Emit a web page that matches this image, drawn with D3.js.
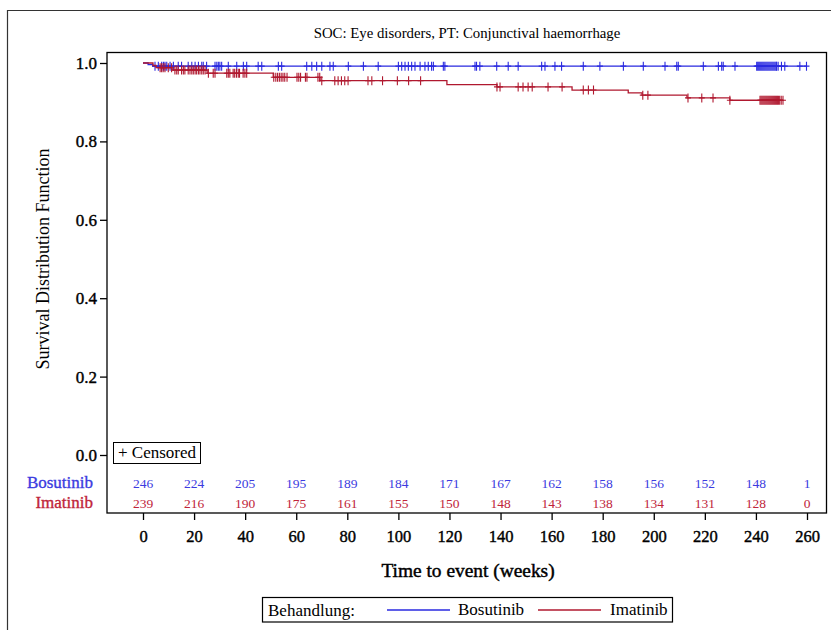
<!DOCTYPE html>
<html>
<head>
<meta charset="utf-8">
<script src="https://cdn.jsdelivr.net/npm/d3@7"></script>
<style>
  body { margin: 0; background: #fff; }
  svg text { font-family: "Liberation Serif", "Times New Roman", Times, "DejaVu Serif", serif; }
</style>
</head>
<body>
<div id="km"></div>
<script>
// --- data ---
var title = "SOC: Eye disorders, PT: Conjunctival haemorrhage";
var groups = ["Bosutinib", "Imatinib"];
var xTicks = [0, 20, 40, 60, 80, 100, 120, 140, 160, 180, 200, 220, 240, 260];
var yTicks = [0, 0.2, 0.4, 0.6, 0.8, 1.0];

var atRiskBos = [246, 224, 205, 195, 189, 184, 171, 167, 162, 158, 156, 152, 148, 1];
var atRiskIma = [239, 216, 190, 175, 161, 155, 150, 148, 143, 138, 134, 131, 128, 0];

// [time, survival after step]
var stepsBos = [[0, 1], [2, 0.996], [3.8, 0.992], [259.8, 0.992]];
var stepsIma = [[0, 1], [3.9, 0.9936], [5.1, 0.988], [11.4, 0.982], [25.1, 0.974],
  [51, 0.9635], [69.3, 0.955], [119, 0.945], [138.6, 0.939], [168, 0.931],
  [190, 0.924], [195.4, 0.918], [213, 0.911], [229.8, 0.905], [250.6, 0.905]];

var censBos = [4.7, 6, 7.3, 8, 8.6, 9.3, 10.6, 11.9, 13.8, 15.1, 17.7, 19.1, 20.4, 21.7, 23,
  23.6, 24.9, 28.2, 28.9, 29.5, 30.1, 30.8, 33.4, 36.7, 39.3, 40.6, 45.1, 46.5, 53, 54.3,
  64.1, 66.1, 68, 70, 73.2, 74.5, 80.4, 86.3, 92.1, 100, 101.3, 102.6, 103.9, 105.2, 106.5,
  108.5, 110.4, 111.7, 113, 113.7, 117.6, 118.2, 130, 130.6, 131.9, 138.5, 143, 146.9,
  156.1, 157.4, 161.3, 163.9, 172.4, 178.9, 188.1, 195.9, 204.4, 209, 209.6, 219.4, 225.3,
  226.6, 227.2, 231.8, 240.3, 240.7, 241.1, 241.5, 241.9, 242.3, 242.7, 243.1, 243.5,
  243.9, 244.3, 244.7, 245.1, 245.5, 245.9, 246.3, 246.7, 247.1, 247.5, 247.9, 248.1,
  248.7, 250, 251.3, 257.2, 259.8];

var censIma = [6.7, 7.3, 7.9, 8.6, 9.9, 11.2, 12.5, 13.2, 13.8, 15.1, 15.8, 16.4, 17.7,
  18.4, 19.1, 19.7, 20.4, 21, 21.7, 22.3, 23, 23.6, 24.3, 25.6, 27.5, 28.2, 32.8, 33.4, 34,
  35.3, 35.9, 36.6, 37.3, 37.8, 39.2, 39.9, 40.6, 51.2, 52, 52.7, 53.4, 54.1, 54.8, 55.5,
  56.4, 60.3, 61, 61.7, 63.6, 64.2, 68.5, 69.2, 70, 75.1, 76.4, 77.7, 79, 80.3, 88.1, 89.6,
  93.8, 99.6, 104, 108.7, 138.6, 139.8, 146.9, 148.8, 150.8, 152.4, 158.6, 164.1, 172.4,
  174.4, 176.4, 195.7, 197.7, 213.4, 218.8, 223.2, 229.8, 241.6, 242, 242.4, 242.8, 243.2,
  243.6, 244, 244.4, 244.8, 245.2, 245.6, 246, 246.4, 246.8, 247.2, 247.6, 248, 248.4,
  248.8, 249.3, 249.9, 250.6];

var colBos = "#2a2ae0", colIma = "#b0182f";
var serif = "Liberation Serif, Times New Roman, Times, DejaVu Serif, serif";

// --- drawing ---
var svg = d3.select("#km").append("svg")
  .attr("width", 831)
  .attr("height", 630);

// outer frame (left and top visible)
svg.append("path")
  .attr("d", "M7.5,631 V10.5 H832")
  .attr("fill", "none")
  .attr("stroke", "#333")
  .attr("stroke-width", 1.2);

var x = d3.scaleLinear().domain([0, 260]).range([143, 807]);
var y = d3.scaleLinear().domain([0, 1]).range([455, 63]);

svg.append("text")
  .attr("x", 467)
  .attr("y", 38)
  .attr("text-anchor", "middle")
  .attr("font-size", 14.8)
  .text(title);

// plot frame
svg.append("rect")
  .attr("x", 107).attr("y", 52.5)
  .attr("width", 719.5).attr("height", 460.5)
  .attr("fill", "none")
  .attr("stroke", "#000")
  .attr("stroke-width", 1.3);

// tick labels: regular serif, slightly thickened like the SAS output
var yAxis = svg.append("g")
  .attr("transform", "translate(107,0)")
  .call(d3.axisLeft(y).tickValues(yTicks).tickFormat(d3.format(".1f")).tickSize(7).tickPadding(3));
yAxis.select(".domain").remove();
yAxis.selectAll("text").attr("font-size", 17).attr("font-family", serif)
  .attr("fill", "#000").attr("stroke", "#000").attr("stroke-width", 0.4);
yAxis.selectAll("line").attr("stroke-width", 1.3);

var xAxis = svg.append("g")
  .attr("transform", "translate(0,513)")
  .call(d3.axisBottom(x).tickValues(xTicks).tickSize(7).tickPadding(10));
xAxis.select(".domain").remove();
xAxis.selectAll("text").attr("font-size", 16.5).attr("font-family", serif)
  .attr("fill", "#000").attr("stroke", "#000").attr("stroke-width", 0.4);
xAxis.selectAll("line").attr("stroke-width", 1.3);

svg.append("text")
  .attr("x", 468).attr("y", 577)
  .attr("text-anchor", "middle")
  .attr("font-size", 19.4)
  .attr("stroke", "#000")
  .attr("stroke-width", 0.45)
  .text("Time to event (weeks)");

svg.append("text")
  .attr("transform", "translate(49,259) rotate(-90)")
  .attr("text-anchor", "middle")
  .attr("font-size", 18)
  .text("Survival Distribution Function");

// survival curves
var line = d3.line()
  .x(function(d) { return x(d[0]); })
  .y(function(d) { return y(d[1]); })
  .curve(d3.curveStepAfter);

function survAt(steps, t) {
  var s = 1;
  steps.forEach(function(d) { if (d[0] <= t) s = d[1]; });
  return s;
}

function drawGroup(steps, cens, col) {
  svg.append("path")
    .datum(steps)
    .attr("d", line)
    .attr("fill", "none")
    .attr("stroke", col)
    .attr("stroke-width", 1.3);
  svg.append("g").selectAll("path")
    .data(cens)
    .join("path")
    .attr("d", function(t) {
      var cx = x(t), cy = y(survAt(steps, t));
      return "M" + cx + "," + (cy - 4.5) + "V" + (cy + 4.5) +
             "M" + (cx - 3) + "," + cy + "H" + (cx + 3);
    })
    .attr("stroke", col)
    .attr("stroke-width", 1.1)
    .attr("fill", "none");
}
drawGroup(stepsBos, censBos, colBos);
drawGroup(stepsIma, censIma, colIma);

// censored legend
svg.append("rect")
  .attr("x", 113.5).attr("y", 442.5)
  .attr("width", 87).attr("height", 21)
  .attr("fill", "#fff").attr("stroke", "#000").attr("stroke-width", 1);
svg.append("text")
  .attr("x", 118).attr("y", 458)
  .attr("font-size", 17)
  .text("+ Censored");

// numbers at risk
var riskRows = [
  { name: groups[0], vals: atRiskBos, col: "#3b3be0", yy: 488 },
  { name: groups[1], vals: atRiskIma, col: "#c0243a", yy: 508 }
];
riskRows.forEach(function(r) {
  svg.append("text")
    .attr("x", 93).attr("y", r.yy)
    .attr("text-anchor", "end")
    .attr("font-size", 17)
    .attr("fill", r.col)
    .attr("stroke", r.col)
    .attr("stroke-width", 0.35)
    .text(r.name);
  svg.append("g").selectAll("text")
    .data(r.vals)
    .join("text")
    .attr("x", function(d, i) { return x(xTicks[i]); })
    .attr("y", r.yy)
    .attr("text-anchor", "middle")
    .attr("font-size", 13.5)
    .attr("fill", r.col)
    .text(function(d) { return d; });
});

// bottom legend
var lg = svg.append("g");
lg.append("rect")
  .attr("x", 262.5).attr("y", 597.5)
  .attr("width", 410).attr("height", 24.5)
  .attr("fill", "#fff").attr("stroke", "#000").attr("stroke-width", 1.2);
lg.append("text").attr("x", 268).attr("y", 616).attr("font-size", 17).text("Behandlung:");
lg.append("line").attr("x1", 387).attr("x2", 450).attr("y1", 610).attr("y2", 610)
  .attr("stroke", colBos).attr("stroke-width", 1.3);
lg.append("text").attr("x", 458).attr("y", 615).attr("font-size", 17).text(groups[0]);
lg.append("line").attr("x1", 538).attr("x2", 601).attr("y1", 610).attr("y2", 610)
  .attr("stroke", colIma).attr("stroke-width", 1.3);
lg.append("text").attr("x", 610).attr("y", 615).attr("font-size", 17).text(groups[1]);
</script>
</body>
</html>
